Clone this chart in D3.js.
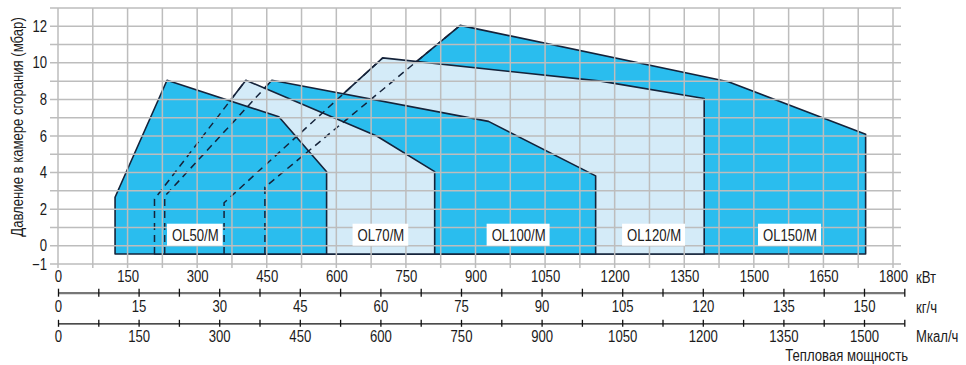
<!DOCTYPE html>
<html lang="ru">
<head>
<meta charset="UTF-8">
<title>Рабочие диапазоны горелок</title>
<script src="https://cdn.jsdelivr.net/npm/d3@7"></script>
<style>
    body{margin:0;background:#fff;}
    svg text{
        font-family:"Liberation Sans",Arial,sans-serif;
        font-size:16px;
        fill:#1b1b1b;
    }
    .grid line{stroke:#bdbdbd;stroke-width:1.5;}
    .area{stroke:#15233a;stroke-width:1.6;stroke-linejoin:round;}
    .hidden{fill:none;stroke:#15233a;stroke-width:1.5;stroke-dasharray:7,5;}
</style>
</head>
<body>
<div class="app"></div>
<script>
    var width = 966,
        height = 365;

    // burners, drawn from back to front
    var models = ['OL150/M','OL120/M','OL100/M','OL70/M','OL50/M'];
    // outline of every working range, [кВт, мбар]
    var ol150 = [[446,-0.45],[446,3.2],[867,12.05],[1445,8.97],[1741,6.1],[1741,-0.45]];
    var ol120 = [[358,-0.45],[358,2.35],[700,10.27],[1170,9.0],[1393,8.05],[1393,-0.45]];
    var ol100 = [[230,-0.45],[230,2.7],[461,9.05],[928,6.8],[1159,3.82],[1159,-0.45]];
    var ol70  = [[208,-0.45],[208,2.55],[405,9.05],[687,6.0],[812,4.05],[812,-0.45]];
    var ol50  = [[123,-0.45],[123,2.65],[235,9.05],[476,7.05],[579,4.05],[579,-0.45]];
    var outlines = [ol150, ol120, ol100, ol70, ol50];
    var dark = [true, false, true, false, true];
    // left edge of the label box, кВт
    var labelKw = [1509, 1216, 924, 635, 235];

    // tick labels
    var yTicks = [-1, 0, 2, 4, 6, 8, 10, 12];
    var kwTicks = [0,150,300,450,600,750,900,1050,1200,1350,1500,1650,1800];
    var kgTicks = [0,15,30,45,60,75,90,105,120,135,150];
    var mcalTicks = [0,150,300,450,600,750,900,1050,1200,1350,1500];

    var svg = d3.select('.app')
                .append('svg')
                .attr('width', width)
                .attr('height', height);

    var x = d3.scaleLinear().domain([0, 1800]).range([58, 893]),
        y = d3.scaleLinear().domain([-1, 13]).range([264, 8]),
        xKg = d3.scaleLinear().domain([0, 157.5]).range([58, 904.3]),
        xMcal = d3.scaleLinear().domain([0, 1575]).range([58, 904.3]);

    var line = d3.line()
                 .x(function(d){ return x(d[0]); })
                 .y(function(d){ return y(d[1]); });

    // filled ranges
    svg.append('g').selectAll('path')
        .data(outlines)
        .enter().append('path')
        .attr('class', 'area')
        .attr('d', function(d){ return line(d) + 'Z'; })
        .attr('fill', function(d, i){ return dark[i] ? '#2abdee' : '#d4ebf8'; });

    // hidden left edges
    svg.append('g').selectAll('path')
        .data(outlines.slice(0, 4))
        .enter().append('path')
        .attr('class', 'hidden')
        .attr('d', function(d){ return line(d.slice(0, 3)); });

    // grid on top of the areas
    var grid = svg.append('g').attr('class', 'grid');
    grid.selectAll('.gx')
        .data(d3.range(0, 1801, 75))
        .enter().append('line')
        .attr('x1', function(d){ return x(d); })
        .attr('x2', function(d){ return x(d); })
        .attr('y1', y(13))
        .attr('y2', y(-1) + 4);
    grid.selectAll('.gy')
        .data(d3.range(-1, 14))
        .enter().append('line')
        .attr('x1', 50)
        .attr('x2', 901)
        .attr('y1', function(d){ return y(d); })
        .attr('y2', function(d){ return y(d); });

    // y axis
    var ay = svg.append('g')
        .attr('transform', 'translate(' + x(0) + ',0)')
        .call(d3.axisLeft(y).tickValues(yTicks).tickSize(0).tickPadding(11));
    ay.select('.domain').remove();

    svg.append('text')
        .attr('transform', 'translate(23,127) rotate(-90)')
        .attr('text-anchor', 'middle')
        .text('Давление в камере сгорания (мбар)');

    // кВт
    var ak = svg.append('g')
        .attr('transform', 'translate(0,' + y(-1) + ')')
        .call(d3.axisBottom(x).tickValues(kwTicks).tickSize(0).tickPadding(7).tickFormat(d3.format('d')));
    ak.select('.domain').remove();

    // кг/ч
    var ag = svg.append('g')
        .attr('transform', 'translate(0,292.7)')
        .call(d3.axisBottom(xKg).tickValues(d3.range(0, 158, 7.5)).tickSize(4).tickSizeOuter(0).tickPadding(4.4)
              .tickFormat(function(d){ return kgTicks.indexOf(d) >= 0 ? d : ''; }));
    ag.select('.domain').attr('stroke', '#777').attr('stroke-width', 2.2);
    ag.selectAll('.tick line').attr('y1', -4).attr('stroke', '#111').attr('stroke-width', 1.3);

    // Мкал/ч
    var am = svg.append('g')
        .attr('transform', 'translate(0,323.3)')
        .call(d3.axisBottom(xMcal).tickValues(d3.range(0, 1576, 75)).tickSize(3.5).tickSizeOuter(0).tickPadding(3.6)
              .tickFormat(function(d){ return mcalTicks.indexOf(d) >= 0 ? d : ''; }));
    am.select('.domain').attr('stroke', '#111').attr('stroke-width', 1.3);
    am.selectAll('.tick line').attr('y1', -3.5).attr('stroke', '#111').attr('stroke-width', 1.3);

    svg.selectAll('.tick text')
        .attr('font-family', null).attr('font-size', null)
        .attr('fill', '#1b1b1b');

    // units
    var units = ['кВт', 'кг/ч', 'Мкал/ч'];
    svg.append('g').selectAll('text')
        .data(units)
        .enter().append('text')
        .attr('x', 916)
        .attr('y', function(d, i){ return [282.5, 312.5, 341.8][i]; })
        .text(function(d){ return d; });

    svg.append('text')
        .attr('x', 908)
        .attr('y', 360.5)
        .attr('text-anchor', 'end')
        .text('Тепловая мощность');

    // condensed type, like the printed chart
    svg.selectAll('text').each(function(){
        var len = this.getComputedTextLength();
        if (len > 0) {
            d3.select(this)
                .attr('textLength', len * 0.82)
                .attr('lengthAdjust', 'spacingAndGlyphs');
        }
    });

    // model labels (white boxes)
    var lab = svg.append('g').selectAll('g')
        .data(models)
        .enter().append('g')
        .attr('transform', function(d, i){ return 'translate(' + x(labelKw[i]) + ',' + (y(0) - 22) + ')'; });
    lab.append('rect')
        .attr('fill', '#fff')
        .attr('height', 22);
    lab.append('text')
        .attr('x', 5)
        .attr('y', 17)
        .text(function(d){ return d; })
        .each(function(){
            var len = this.getComputedTextLength() * 0.82;
            d3.select(this).attr('textLength', len).attr('lengthAdjust', 'spacingAndGlyphs');
            d3.select(this.parentNode).select('rect').attr('width', len + 9);
        });
</script>
</body>
</html>
